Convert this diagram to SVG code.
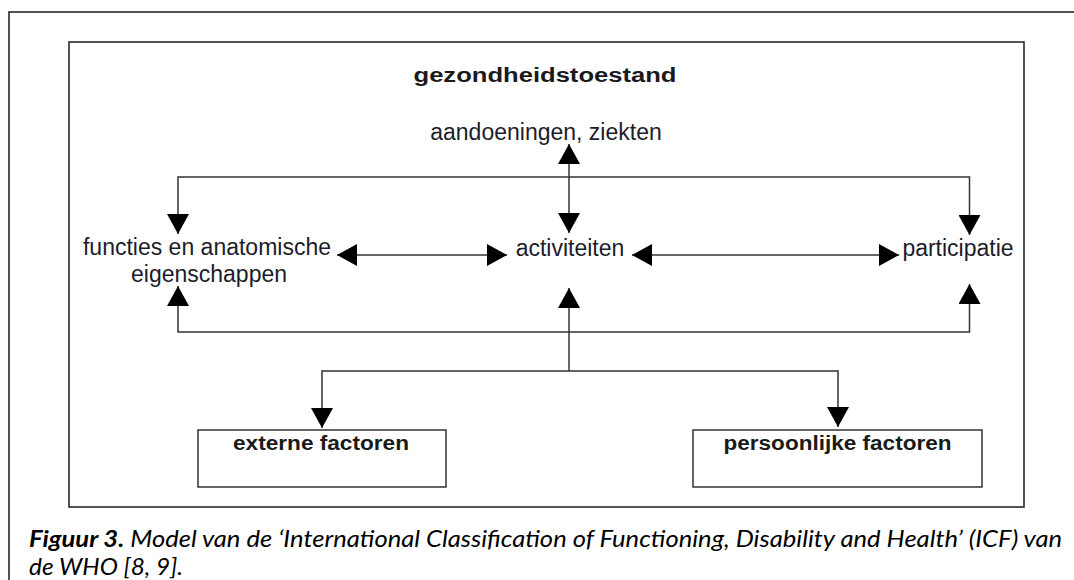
<svg xmlns="http://www.w3.org/2000/svg" width="1074" height="580" viewBox="0 0 1074 580">
<style>
.frame{fill:none;stroke:#2a2a2a;stroke-width:1.6}
.box{fill:#fff;stroke:#333;stroke-width:1.5}
.conn{fill:none;stroke:#333;stroke-width:1.5}
.t{font-family:"Liberation Sans",Arial,sans-serif;font-size:23px;fill:#1c1c2a;text-anchor:middle}
.b{font-family:"Liberation Sans",Arial,sans-serif;font-size:20px;font-weight:bold;fill:#1a1a1a;text-anchor:middle}
.cap{font-family:Lato,"Open Sans",sans-serif;font-size:23.5px;font-style:italic;fill:#000}
</style>
<defs>
<marker id="ah" markerUnits="userSpaceOnUse" markerWidth="21" markerHeight="22" refX="20" refY="11" orient="auto-start-reverse" viewBox="0 0 21 22">
<path d="M0,0 L20,11 L0,22 Z" fill="#000"/>
</marker>
</defs>
<rect class="frame" x="9" y="12" width="1085" height="600"/>
<rect class="frame" x="69" y="42" width="955" height="465" stroke="#3a3a3a"/>
<g id="title">
<text class="b" x="545" y="82" font-size="22" textLength="263" lengthAdjust="spacingAndGlyphs">gezondheidstoestand</text>
</g>
<g id="aandoeningen">
<text class="t" x="546" y="140">aandoeningen, ziekten</text>
</g>
<g id="functies">
<text class="t" x="207" y="255">functies en anatomische</text>
<text class="t" x="209" y="282">eigenschappen</text>
</g>
<g id="activiteiten">
<text class="t" x="570" y="256">activiteiten</text>
</g>
<g id="participatie">
<text class="t" x="958" y="256">participatie</text>
</g>
<g id="externe">
<rect class="box" x="198" y="430" width="248" height="57"/>
<text class="b" x="321" y="450" textLength="176" lengthAdjust="spacingAndGlyphs">externe factoren</text>
</g>
<g id="persoonlijke">
<rect class="box" x="693" y="430" width="289" height="57"/>
<text class="b" x="837.5" y="450" textLength="228" lengthAdjust="spacingAndGlyphs">persoonlijke factoren</text>
</g>
<g id="connectors">
<path class="conn" d="M569,144 V233" marker-start="url(#ah)" marker-end="url(#ah)"/>
<path class="conn" d="M178,234 V177 H969.5 V235" marker-start="url(#ah)" marker-end="url(#ah)"/>
<path class="conn" d="M337,255 H507" marker-start="url(#ah)" marker-end="url(#ah)"/>
<path class="conn" d="M632,255 H899" marker-start="url(#ah)" marker-end="url(#ah)"/>
<path class="conn" d="M178,286 V332 H969.5 V284" marker-start="url(#ah)" marker-end="url(#ah)"/>
<path class="conn" d="M569,371 V288" marker-end="url(#ah)"/>
<path class="conn" d="M838,427 V371 H322 V428" marker-start="url(#ah)" marker-end="url(#ah)"/>
</g>
<g id="caption">
<text class="cap" x="29" y="547" textLength="1033" lengthAdjust="spacingAndGlyphs"><tspan font-weight="bold">Figuur 3.</tspan> Model van de ‘International Classification of Functioning, Disability and Health’ (ICF) van</text>
<text class="cap" x="29" y="575" textLength="154" lengthAdjust="spacingAndGlyphs">de WHO [8, 9].</text>
</g>
</svg>
